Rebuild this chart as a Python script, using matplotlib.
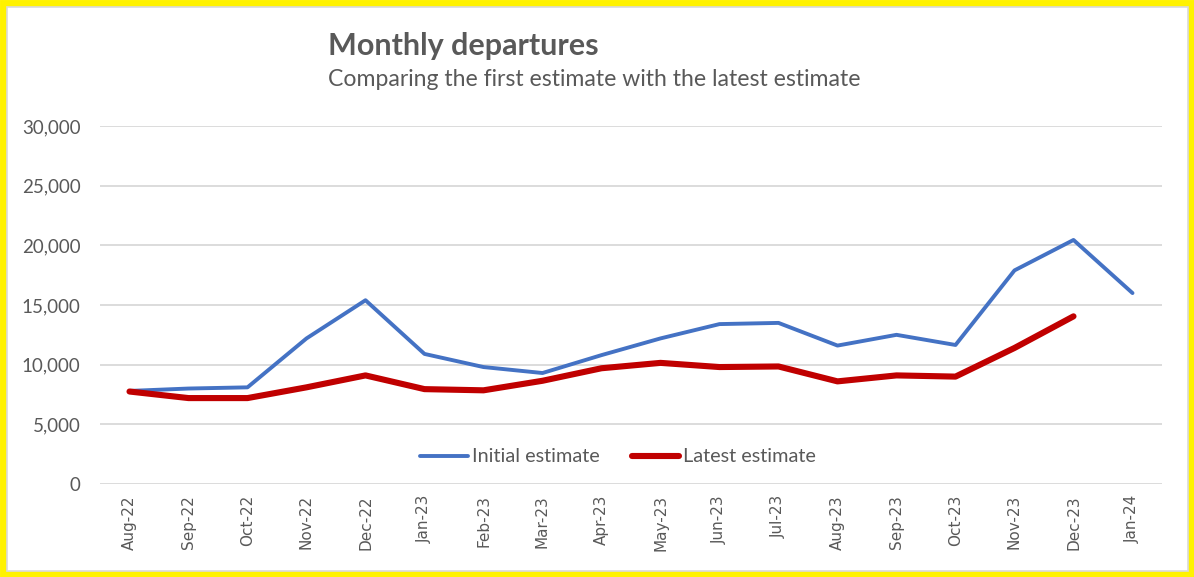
import matplotlib.pyplot as plt
from matplotlib.patches import Rectangle
from matplotlib.ticker import FuncFormatter

# data
months = ['Aug-22', 'Sep-22', 'Oct-22', 'Nov-22', 'Dec-22', 'Jan-23', 'Feb-23',
          'Mar-23', 'Apr-23', 'May-23', 'Jun-23', 'Jul-23', 'Aug-23', 'Sep-23',
          'Oct-23', 'Nov-23', 'Dec-23', 'Jan-24']
initial = [7800, 8000, 8100, 12200, 15400, 10900, 9800, 9300, 10800, 12200,
           13400, 13500, 11600, 12500, 11650, 17900, 20450, 16000]
latest = [7750, 7200, 7200, 8100, 9100, 7950, 7850, 8650, 9700, 10150,
          9800, 9850, 8600, 9100, 9000, 11400, 14050]

grey = '#595959'

fig = plt.figure(figsize=(11.94, 5.77), dpi=100)
ax = fig.add_axes([100 / 1194, 1 - 484 / 577, 1062 / 1194, 358 / 577])

x = list(range(len(months)))
ax.plot(x, initial, color='#4472C4', linewidth=2.8, solid_capstyle='round',
        solid_joinstyle='round', label='Initial estimate')
ax.plot(x[:len(latest)], latest, color='#C00000', linewidth=4.4,
        solid_capstyle='round', solid_joinstyle='round', label='Latest estimate')

ax.set_xlim(-0.5, len(months) - 0.5)
ax.set_ylim(0, 30000)
ax.set_yticks(range(0, 30001, 5000))
ax.yaxis.set_major_formatter(FuncFormatter(lambda v, p: f'{int(v):,}'))
ax.set_xticks(x)
ax.set_xticklabels(months, rotation=90, fontsize=11, color=grey,
                   family='DejaVu Sans')
ax.tick_params(axis='x', length=0, pad=8)
ax.tick_params(axis='y', length=0, pad=14, labelsize=13.5, labelcolor=grey)
for lab in ax.get_yticklabels():
    lab.set_family('Lato')

ax.grid(axis='y', color='#D9D9D9', linewidth=1.3)
ax.set_axisbelow(True)
for s in ax.spines.values():
    s.set_visible(False)

leg = ax.legend(loc='center', bbox_to_anchor=(0.488, 27 / 358), ncol=2,
                frameon=False, handlelength=2.4, handletextpad=0.2,
                columnspacing=1.6, prop={'family': 'Lato', 'size': 14.3})
for t in leg.get_texts():
    t.set_color(grey)

fig.text(328 / 1194, 1 - 46 / 577, 'Monthly departures', fontsize=22,
         fontweight='bold', color=grey, family='Lato', va='center')
fig.text(328 / 1194, 1 - 80 / 577, 'Comparing the first estimate with the latest estimate',
         fontsize=16.6, color=grey, family='Lato', va='center')

# yellow frame with thin grey inner edge
fig.patches.append(Rectangle((3 / 1194, 3 / 577), 1188 / 1194, 571 / 577,
                             transform=fig.transFigure, fill=False,
                             edgecolor='#FFF200', linewidth=5))
fig.patches.append(Rectangle((6.5 / 1194, 6.5 / 577), 1181 / 1194, 564 / 577,
                             transform=fig.transFigure, fill=False,
                             edgecolor='#D9D9D9', linewidth=1.2))

fig.savefig('out.png', dpi=100)
